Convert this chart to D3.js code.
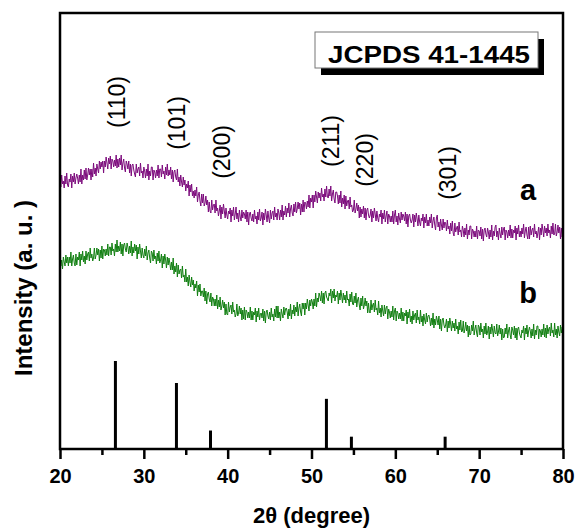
<!DOCTYPE html>
<html>
<head>
<meta charset="utf-8">
<script src="https://cdn.jsdelivr.net/npm/d3@7"></script>
<style>
  html, body { margin: 0; padding: 0; background: #fff; }
  svg { display: block; font-family: "Liberation Sans", Arial, sans-serif; }
</style>
</head>
<body>
<svg id="chart" width="576" height="529"></svg>
<script>
// XRD patterns, 2θ from 20° to 80° sampled every 0.1° (one row per degree)
const scanStart = 20;
const scanStep = 0.1;

// sample a (intensity, a.u., offset trace)
const seriesA = [
  270,262,274,265,268,261,273,265,276,264,
  262,270,267,275,261,273,267,276,265,271,
  275,271,265,274,267,280,265,274,269,279,
  270,281,269,274,281,274,280,269,280,272,
  286,275,281,273,285,280,276,288,280,287,
  282,288,276,288,282,292,286,280,291,285,
  293,280,290,288,282,289,283,294,281,290,
  282,291,284,294,279,286,290,281,277,288,
  285,280,288,276,285,273,284,285,279,275,
  272,285,276,280,282,273,286,276,278,271,
  282,278,271,280,273,285,269,278,273,282,
  282,269,279,277,271,279,273,284,271,280,
  280,272,284,275,278,270,282,274,285,273,
  279,274,282,270,279,267,277,279,272,269,
  280,267,272,263,274,267,262,272,264,269,
  258,265,261,268,253,264,257,265,253,258,
  251,259,253,262,247,254,257,248,243,255,
  246,255,243,246,253,244,249,237,247,238,
  236,249,239,244,245,236,249,238,241,233,
  238,244,230,242,235,245,238,231,241,234,
  230,238,235,241,227,239,233,242,229,235,
  242,230,236,227,239,232,228,239,231,237,
  235,230,239,227,237,224,235,237,231,228,
  235,227,239,230,233,225,237,229,240,228,
  231,237,224,236,229,240,234,227,238,231,
  226,239,230,236,238,229,242,232,236,229,
  240,236,229,239,232,244,229,238,234,243,
  232,241,236,246,232,240,244,236,233,245,
  237,247,236,240,247,240,246,234,245,237,
  249,237,247,246,240,248,242,254,241,251,
  247,254,241,254,247,258,252,246,257,251,
  256,248,261,252,255,248,260,252,263,252,
  251,260,253,263,248,255,259,250,246,257,
  257,253,245,254,246,258,242,251,245,254,
  240,253,243,248,249,240,252,242,244,237,
  239,249,236,240,246,238,244,231,242,232,
  240,235,243,231,241,229,239,241,234,231,
  234,240,227,238,231,241,235,228,238,231,
  227,235,232,239,225,236,230,239,227,233,
  238,225,235,233,227,233,227,238,225,234,
  239,227,233,224,236,230,226,237,229,235,
  233,228,237,225,235,222,233,235,229,226,
  229,235,222,234,227,236,230,223,234,227,
  223,231,228,235,221,232,226,235,223,229,
  223,232,226,235,221,228,232,224,219,231,
  234,222,227,218,230,224,219,230,221,227,
  226,218,229,220,223,215,226,218,228,216,
  213,226,217,221,223,214,227,217,219,212,
  223,219,212,221,214,225,210,219,214,223,
  223,210,220,218,212,218,212,223,210,219,
  218,213,222,210,220,208,219,221,215,212,
  221,217,210,219,212,224,209,218,213,222,
  224,212,218,209,221,215,211,222,214,220,
  222,209,219,217,211,219,213,224,211,220,
  211,219,216,223,209,221,215,224,212,218,
  212,221,215,225,211,218,222,214,210,222,
  210,223,214,219,221,212,225,215,218,211,
  216,222,209,221,214,225,219,212,223,216,
  221,213,225,216,219,211,223,215,226,214,
  215,225,213,217,224,216,222,210,221,212,
  218
];

// sample b
const seriesB = [
  195,183,189,180,192,187,183,194,186,192,
  183,192,186,197,183,190,194,186,183,195,
  184,192,189,197,183,195,189,198,187,193,
  185,198,189,195,197,188,201,191,195,188,
  191,201,190,194,201,194,200,188,199,191,
  203,190,200,199,193,200,194,205,193,202,
  202,194,206,198,200,193,205,197,209,197,
  203,198,207,195,205,193,204,206,200,197,
  206,202,195,203,196,208,193,202,196,205,
  198,204,190,202,195,205,198,191,201,194,
  191,200,193,203,189,196,199,191,186,198,
  196,188,199,190,193,185,196,188,198,186,
  189,195,181,193,185,195,189,181,192,184,
  191,186,179,187,179,191,175,183,177,186,
  172,184,175,179,180,171,183,172,174,167,
  180,167,172,163,174,167,162,172,164,169,
  158,165,161,168,153,164,157,165,153,158,
  158,152,161,148,158,145,155,157,150,147,
  156,143,152,150,143,150,143,154,140,149,
  142,152,139,143,149,141,147,134,145,135,
  134,147,137,142,144,135,147,137,139,132,
  135,145,133,136,143,135,141,129,139,130,
  142,129,139,137,131,137,131,142,129,138,
  129,137,134,141,127,138,132,141,129,135,
  136,131,140,128,138,126,137,139,133,130,
  137,129,141,132,135,128,140,132,143,131,
  143,131,137,128,140,135,131,142,134,140,
  141,137,130,140,133,145,130,139,135,144,
  133,142,137,147,133,141,145,137,133,146,
  140,146,134,146,140,150,144,138,149,143,
  150,147,140,150,143,156,142,151,147,156,
  153,148,158,146,156,145,156,158,152,150,
  148,156,153,160,146,158,151,160,148,154,
  152,158,145,156,149,159,153,146,156,149,
  154,146,158,149,150,143,155,147,157,145,
  144,153,146,156,142,149,152,144,139,151,
  143,153,140,144,151,143,148,136,146,137,
  136,149,139,144,146,137,149,139,141,134,
  148,136,141,132,144,138,133,144,135,141,
  143,130,140,137,131,138,132,143,129,138,
  141,128,138,136,130,136,130,141,128,137,
  128,136,133,139,125,137,131,140,127,133,
  125,138,129,134,136,126,139,129,132,125,
  139,127,133,123,135,129,125,136,127,133,
  134,130,123,131,124,136,121,130,124,133,
  129,124,133,120,130,118,129,131,124,121,
  124,130,117,128,121,131,125,118,128,121,
  126,118,130,120,123,115,127,119,129,117,
  118,128,116,120,127,118,124,112,123,114,
  115,124,118,128,114,120,124,116,112,124,
  122,114,126,117,120,111,123,115,126,114,
  117,123,110,122,115,125,119,112,123,116,
  115,125,113,117,124,115,121,109,120,111,
  112,121,115,125,111,118,122,114,110,122,
  119,114,123,111,121,109,120,122,116,113,
  111,119,116,123,109,121,115,124,112,118,
  122,118,111,120,113,125,110,119,114,123,
  123,110,120,118,112,120,114,125,112,121,
  111,124,115,120,122,113,126,116,119,112,
  126,114,120,111,123,117,113,124,116,122,
  118
];

// JCPDS 41-1445 reference lines
const refTwoTheta = [26.61, 33.89, 37.95, 51.78, 54.76, 65.94];
const refIntensity = [100, 75, 21, 57, 14, 14];
const refHkl = ["(110)", "(101)", "(200)", "(211)", "(220)", "(301)"];

const xTicks = [20, 30, 40, 50, 60, 70, 80];
const xMinorTicks = [25, 35, 45, 55, 65, 75];

// ---- layout ----
const plot = { left: 60, right: 563, top: 13, bottom: 449 };
const svg = d3.select("#chart");

const x = d3.scaleLinear().domain([20, 80]).range([plot.left, plot.right]);
const y = d3.scaleLinear().domain([0, 436]).range([plot.bottom, plot.top]);
const yRef = d3.scaleLinear().domain([0, 100]).range([plot.bottom, plot.bottom - 88]);

const toPoints = arr => arr.map((v, i) => [scanStart + i * scanStep, v]);
const line = d3.line().x(d => x(d[0])).y(d => y(d[1]));

// traces
svg.append("path").datum(toPoints(seriesA))
  .attr("d", line).attr("fill", "none")
  .attr("stroke", "#7c0a7c").attr("stroke-width", 1);
svg.append("path").datum(toPoints(seriesB))
  .attr("d", line).attr("fill", "none")
  .attr("stroke", "#117f11").attr("stroke-width", 1);

// reference sticks
svg.append("g").selectAll("line").data(refTwoTheta).join("line")
  .attr("x1", d => x(d)).attr("x2", d => x(d))
  .attr("y1", yRef(0)).attr("y2", (d, i) => yRef(refIntensity[i]))
  .attr("stroke", "#000").attr("stroke-width", 3);

// frame
svg.append("rect")
  .attr("x", plot.left).attr("y", plot.top)
  .attr("width", plot.right - plot.left).attr("height", plot.bottom - plot.top)
  .attr("fill", "none").attr("stroke", "#000").attr("stroke-width", 2.5);

// bottom axis
const xAxis = d3.axisBottom(x).tickValues(xTicks).tickSize(10).tickPadding(10).tickFormat(d3.format("d"));
const gx = svg.append("g").attr("transform", `translate(0,${plot.bottom})`).call(xAxis);
gx.select(".domain").remove();
gx.selectAll(".tick line").attr("stroke-width", 2.5);
gx.selectAll(".tick text")
  .attr("font-family", "Liberation Sans, Arial, sans-serif")
  .attr("font-size", 20).attr("font-weight", "bold").attr("fill", "#000");
const gxm = svg.append("g").attr("transform", `translate(0,${plot.bottom})`)
  .call(d3.axisBottom(x).tickValues(xMinorTicks).tickSize(6).tickFormat(""));
gxm.select(".domain").remove();
gxm.selectAll(".tick line").attr("stroke-width", 2.5);

// axis titles
svg.append("text")
  .attr("x", (plot.left + plot.right) / 2).attr("y", 523)
  .attr("text-anchor", "middle")
  .attr("font-size", 22).attr("font-weight", "bold")
  .text("2θ (degree)");
svg.append("text")
  .attr("transform", "translate(23,288) rotate(-90)")
  .attr("text-anchor", "middle").attr("dominant-baseline", "central")
  .attr("font-size", 24).attr("font-weight", "bold")
  .text("Intensity (a. u. )");

// Miller index labels (offset from each line, label centre height)
const hklPlace = {
  "(110)": [2, 102], "(101)": [1, 123], "(200)": [12, 152],
  "(211)": [5, 141], "(220)": [14, 160], "(301)": [3, 173]
};
svg.append("g").selectAll("text").data(refHkl).join("text")
  .attr("transform", (d, i) => `translate(${x(refTwoTheta[i]) + hklPlace[d][0]},${hklPlace[d][1]}) rotate(-90)`)
  .attr("text-anchor", "middle").attr("dominant-baseline", "central")
  .attr("font-size", 23)
  .text(d => d);

// trace names
svg.append("text").attr("x", 528).attr("y", 200).attr("text-anchor", "middle")
  .attr("font-size", 29).attr("font-weight", "bold").text("a");
svg.append("text").attr("x", 528).attr("y", 303).attr("text-anchor", "middle")
  .attr("font-size", 29).attr("font-weight", "bold").text("b");

// card label with drop shadow
const card = { x: 315, y: 32, w: 223, h: 36 };
svg.append("rect").attr("x", card.x + 6).attr("y", card.y + 7)
  .attr("width", card.w).attr("height", card.h).attr("fill", "#000");
svg.append("rect").attr("x", card.x).attr("y", card.y)
  .attr("width", card.w).attr("height", card.h)
  .attr("fill", "#fff").attr("stroke", "#777").attr("stroke-width", 1);
svg.append("text").attr("x", 429).attr("y", 63).attr("text-anchor", "middle")
  .attr("font-size", 23).attr("font-weight", "bold")
  .attr("textLength", 202).attr("lengthAdjust", "spacingAndGlyphs")
  .text("JCPDS 41-1445");
</script>
</body>
</html>
